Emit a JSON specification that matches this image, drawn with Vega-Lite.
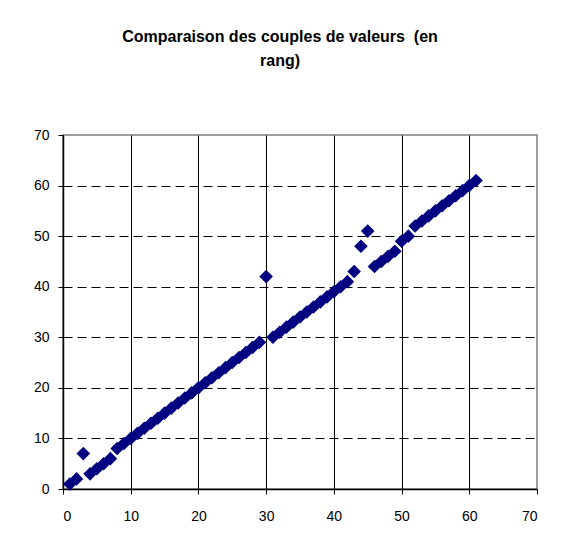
{
  "$schema": "https://vega.github.io/schema/vega-lite/v6.json",
  "width": 474,
  "height": 354,
  "autosize": "none",
  "padding": {"left": 63, "top": 135, "right": 24, "bottom": 51},
  "background": "white",
  "title": {
    "text": ["Comparaison des couples de valeurs\u00a0 (en", "rang)"],
    "font": "Liberation Sans",
    "fontSize": 16,
    "fontWeight": "bold",
    "color": "black",
    "anchor": "middle",
    "dx": -20,
    "offset": 59,
    "lineHeight": 24
  },
  "data": {
    "values": [
      {"x": 1, "y": 1}, {"x": 2, "y": 2}, {"x": 3, "y": 7}, {"x": 4, "y": 3},
      {"x": 5, "y": 4}, {"x": 6, "y": 5}, {"x": 7, "y": 6}, {"x": 8, "y": 8},
      {"x": 9, "y": 9}, {"x": 10, "y": 10}, {"x": 11, "y": 11}, {"x": 12, "y": 12},
      {"x": 13, "y": 13}, {"x": 14, "y": 14}, {"x": 15, "y": 15}, {"x": 16, "y": 16},
      {"x": 17, "y": 17}, {"x": 18, "y": 18}, {"x": 19, "y": 19}, {"x": 20, "y": 20},
      {"x": 21, "y": 21}, {"x": 22, "y": 22}, {"x": 23, "y": 23}, {"x": 24, "y": 24},
      {"x": 25, "y": 25}, {"x": 26, "y": 26}, {"x": 27, "y": 27}, {"x": 28, "y": 28},
      {"x": 29, "y": 29}, {"x": 30, "y": 42}, {"x": 31, "y": 30}, {"x": 32, "y": 31},
      {"x": 33, "y": 32}, {"x": 34, "y": 33}, {"x": 35, "y": 34}, {"x": 36, "y": 35},
      {"x": 37, "y": 36}, {"x": 38, "y": 37}, {"x": 39, "y": 38}, {"x": 40, "y": 39},
      {"x": 41, "y": 40}, {"x": 42, "y": 41}, {"x": 43, "y": 43}, {"x": 44, "y": 48},
      {"x": 45, "y": 51}, {"x": 46, "y": 44}, {"x": 47, "y": 45}, {"x": 48, "y": 46},
      {"x": 49, "y": 47}, {"x": 50, "y": 49}, {"x": 51, "y": 50}, {"x": 52, "y": 52},
      {"x": 53, "y": 53}, {"x": 54, "y": 54}, {"x": 55, "y": 55}, {"x": 56, "y": 56},
      {"x": 57, "y": 57}, {"x": 58, "y": 58}, {"x": 59, "y": 59}, {"x": 60, "y": 60},
      {"x": 61, "y": 61}
    ]
  },
  "mark": {"type": "point", "shape": "diamond", "filled": true, "size": 185, "color": "#000080", "opacity": 1, "strokeWidth": 0},
  "encoding": {
    "x": {
      "field": "x", "type": "quantitative",
      "scale": {"domain": [0, 70], "nice": false, "zero": true},
      "axis": {
        "title": null, "values": [0, 10, 20, 30, 40, 50, 60, 70],
        "grid": true,
        "gridColor": {"condition": {"test": "datum.value == 70 || datum.value == 0", "value": "transparent"}, "value": "black"},
        "labelPadding": 15
      }
    },
    "y": {
      "field": "y", "type": "quantitative",
      "scale": {"domain": [0, 70], "nice": false, "zero": true},
      "axis": {
        "title": null, "values": [0, 10, 20, 30, 40, 50, 60, 70],
        "grid": true,
        "gridDash": [9, 5],
        "gridColor": {"condition": {"test": "datum.value == 70 || datum.value == 0", "value": "transparent"}, "value": "black"},
        "labelPadding": 9
      }
    }
  },
  "config": {
    "view": {"stroke": "#808080", "strokeWidth": 1.5},
    "axis": {
      "domainColor": "black",
      "domainWidth": 1.5,
      "tickColor": "black",
      "tickSize": 5,
      "tickWidth": 1,
      "gridWidth": 1,
      "gridOpacity": 1,
      "labelFont": "Liberation Sans",
      "labelFontSize": 14,
      "labelColor": "black"
    }
  }
}
